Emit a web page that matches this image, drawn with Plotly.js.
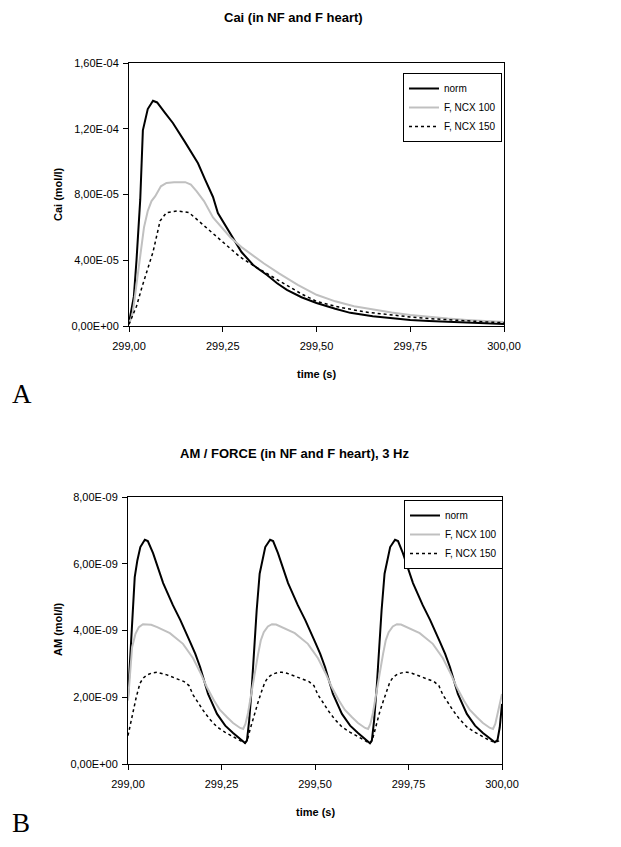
<!DOCTYPE html>
<html>
<head>
<meta charset="utf-8">
<script src="https://cdn.plot.ly/plotly-3.0.1.min.js"></script>
<style>
  html, body { margin: 0; padding: 0; background: #fff; }
  #chart { width: 621px; height: 847px; }
</style>
</head>
<body>
<div id="chart"></div>
<script>
// ---------- shared ----------
const seriesNames = ["norm", "F, NCX 100", "F, NCX 150"];

const xTickVals = [299.00, 299.25, 299.50, 299.75, 300.00];
const xTickText = ["299,00", "299,25", "299,50", "299,75", "300,00"];

const aTickVals = [0, 4e-5, 8e-5, 1.2e-4, 1.6e-4];
const aTickText = ["0,00E+00", "4,00E-05", "8,00E-05", "1,20E-04", "1,60E-04"];

const bTickVals = [0, 2e-9, 4e-9, 6e-9, 8e-9];
const bTickText = ["0,00E+00", "2,00E-09", "4,00E-09", "6,00E-09", "8,00E-09"];

// ---------- Chart A: Cai (mol/l) ----------
const normA_t = [299.000, 299.005, 299.013, 299.020, 299.030, 299.037, 299.050, 299.064, 299.075, 299.095, 299.117, 299.149, 299.170, 299.184, 299.203, 299.224, 299.237, 299.257, 299.277, 299.300, 299.331, 299.350, 299.368, 299.395, 299.421, 299.460, 299.500, 299.550, 299.590, 299.650, 299.700, 299.750, 299.800, 299.850, 299.900, 299.950, 300.000];
const normA_v = [2e-6, 8e-6, 1.8e-5, 4.0e-5, 7.7e-5, 1.19e-4, 1.32e-4, 1.37e-4, 1.36e-4, 1.30e-4, 1.235e-4, 1.12e-4, 1.04e-4, 9.9e-5, 8.9e-5, 7.85e-5, 6.87e-5, 6.1e-5, 5.41e-5, 4.5e-5, 3.71e-5, 3.4e-5, 3.1e-5, 2.6e-5, 2.2e-5, 1.75e-5, 1.4e-5, 1.05e-5, 8.0e-6, 6.0e-6, 4.8e-6, 3.7e-6, 3.0e-6, 2.5e-6, 2.0e-6, 1.5e-6, 1.2e-6];

const grayA_t = [299.000, 299.005, 299.010, 299.020, 299.030, 299.040, 299.050, 299.060, 299.070, 299.085, 299.100, 299.120, 299.150, 299.165, 299.180, 299.200, 299.224, 299.250, 299.270, 299.300, 299.330, 299.360, 299.400, 299.450, 299.500, 299.550, 299.600, 299.650, 299.700, 299.750, 299.800, 299.850, 299.900, 299.950, 300.000];
const grayA_v = [2e-6, 4e-6, 8e-6, 2.5e-5, 4.3e-5, 6.0e-5, 7.0e-5, 7.6e-5, 7.9e-5, 8.5e-5, 8.7e-5, 8.75e-5, 8.75e-5, 8.6e-5, 8.2e-5, 7.6e-5, 6.6e-5, 5.9e-5, 5.4e-5, 4.8e-5, 4.3e-5, 3.8e-5, 3.2e-5, 2.5e-5, 1.9e-5, 1.5e-5, 1.2e-5, 1.0e-5, 8.2e-6, 6.7e-6, 5.5e-6, 4.5e-6, 3.7e-6, 3.0e-6, 2.5e-6];

const dashA_t = [299.000, 299.010, 299.020, 299.035, 299.048, 299.064, 299.075, 299.083, 299.100, 299.130, 299.160, 299.190, 299.215, 299.243, 299.270, 299.296, 299.330, 299.368, 299.420, 299.460, 299.500, 299.560, 299.630, 299.700, 299.750, 299.800, 299.850, 299.900, 299.950, 300.000];
const dashA_v = [1e-6, 6e-6, 1.2e-5, 2.4e-5, 3.4e-5, 4.5e-5, 5.6e-5, 6.4e-5, 6.9e-5, 7.0e-5, 6.9e-5, 6.3e-5, 5.8e-5, 5.2e-5, 4.7e-5, 4.2e-5, 3.7e-5, 3.2e-5, 2.5e-5, 1.95e-5, 1.5e-5, 1.15e-5, 8.5e-6, 6.5e-6, 5.5e-6, 4.5e-6, 3.7e-6, 3.0e-6, 2.5e-6, 2.0e-6];

// ---------- Chart B: AM (mol/l) ----------
const normB_t = [299.000, 299.005, 299.011, 299.018, 299.025, 299.033, 299.045, 299.053, 299.067, 299.080, 299.094, 299.120, 299.140, 299.166, 299.180, 299.193, 299.214, 299.238, 299.260, 299.281, 299.300, 299.313, 299.318, 299.324, 299.331, 299.338, 299.344, 299.352, 299.359, 299.367, 299.380,
  299.388, 299.401, 299.414, 299.428, 299.454, 299.474, 299.500, 299.514, 299.527, 299.548, 299.572, 299.594, 299.615, 299.634, 299.647, 299.652, 299.658, 299.665, 299.672, 299.678, 299.686, 299.693, 299.701, 299.714,
  299.722, 299.735, 299.748, 299.762, 299.788, 299.808, 299.834, 299.848, 299.861, 299.882, 299.906, 299.928, 299.949, 299.968, 299.981, 299.988, 299.994, 300.000];
const normB_v = [2.0e-9, 3.0e-9, 4.5e-9, 5.6e-9, 6.1e-9, 6.5e-9, 6.72e-9, 6.68e-9, 6.32e-9, 5.9e-9, 5.42e-9, 4.76e-9, 4.31e-9, 3.66e-9, 3.3e-9, 2.9e-9, 2.1e-9, 1.5e-9, 1.15e-9, 0.93e-9, 0.75e-9, 0.63e-9, 0.7e-9, 1.3e-9, 2.3e-9, 3.6e-9, 4.6e-9, 5.7e-9, 6.1e-9, 6.5e-9, 6.72e-9,
  6.68e-9, 6.32e-9, 5.9e-9, 5.42e-9, 4.76e-9, 4.31e-9, 3.66e-9, 3.3e-9, 2.9e-9, 2.1e-9, 1.5e-9, 1.15e-9, 0.93e-9, 0.75e-9, 0.62e-9, 0.7e-9, 1.3e-9, 2.3e-9, 3.6e-9, 4.6e-9, 5.7e-9, 6.1e-9, 6.5e-9, 6.72e-9,
  6.68e-9, 6.32e-9, 5.9e-9, 5.42e-9, 4.76e-9, 4.31e-9, 3.66e-9, 3.3e-9, 2.9e-9, 2.1e-9, 1.5e-9, 1.15e-9, 0.93e-9, 0.75e-9, 0.65e-9, 0.72e-9, 1.1e-9, 1.8e-9];

const grayB_t = [299.000, 299.005, 299.011, 299.020, 299.029, 299.040, 299.062, 299.078, 299.112, 299.147, 299.174, 299.195, 299.211, 299.230, 299.246, 299.265, 299.281, 299.300, 299.308, 299.314, 299.321, 299.328, 299.334, 299.341, 299.348, 299.355, 299.363, 299.374, 299.385,
  299.396, 299.412, 299.446, 299.481, 299.508, 299.529, 299.545, 299.564, 299.580, 299.599, 299.615, 299.634, 299.642, 299.648, 299.655, 299.662, 299.668, 299.675, 299.682, 299.689, 299.697, 299.708, 299.719,
  299.730, 299.746, 299.780, 299.815, 299.842, 299.863, 299.879, 299.898, 299.914, 299.933, 299.949, 299.968, 299.976, 299.982, 299.989, 299.995, 300.000];
const grayB_v = [1.9e-9, 2.6e-9, 3.5e-9, 3.9e-9, 4.1e-9, 4.19e-9, 4.17e-9, 4.1e-9, 3.92e-9, 3.6e-9, 3.17e-9, 2.7e-9, 2.3e-9, 1.9e-9, 1.62e-9, 1.4e-9, 1.23e-9, 1.08e-9, 1.05e-9, 1.2e-9, 1.53e-9, 2.0e-9, 2.42e-9, 2.9e-9, 3.3e-9, 3.7e-9, 3.95e-9, 4.12e-9, 4.19e-9,
  4.18e-9, 4.1e-9, 3.92e-9, 3.6e-9, 3.17e-9, 2.7e-9, 2.3e-9, 1.9e-9, 1.62e-9, 1.4e-9, 1.23e-9, 1.08e-9, 1.05e-9, 1.2e-9, 1.53e-9, 2.0e-9, 2.42e-9, 2.9e-9, 3.3e-9, 3.7e-9, 3.95e-9, 4.12e-9, 4.19e-9,
  4.18e-9, 4.1e-9, 3.92e-9, 3.6e-9, 3.17e-9, 2.7e-9, 2.3e-9, 1.9e-9, 1.62e-9, 1.4e-9, 1.23e-9, 1.08e-9, 1.05e-9, 1.2e-9, 1.53e-9, 1.9e-9, 2.1e-9];

const dashB_t = [299.000, 299.008, 299.014, 299.022, 299.032, 299.041, 299.051, 299.065, 299.078, 299.091, 299.104, 299.131, 299.150, 299.163, 299.174, 299.187, 299.200, 299.218, 299.238, 299.260, 299.281, 299.300, 299.313, 299.320, 299.326, 299.333, 299.340, 299.349, 299.358, 299.366, 299.375, 299.388, 299.405,
  299.412, 299.425, 299.438, 299.465, 299.484, 299.497, 299.508, 299.521, 299.534, 299.552, 299.572, 299.594, 299.615, 299.634, 299.647, 299.654, 299.660, 299.667, 299.674, 299.683, 299.692, 299.700, 299.709, 299.722, 299.739,
  299.746, 299.759, 299.772, 299.799, 299.818, 299.831, 299.842, 299.855, 299.868, 299.886, 299.906, 299.928, 299.949, 299.968, 299.981, 299.990, 300.000];
const dashB_v = [0.85e-9, 1.3e-9, 1.6e-9, 2.0e-9, 2.42e-9, 2.58e-9, 2.67e-9, 2.73e-9, 2.75e-9, 2.72e-9, 2.67e-9, 2.55e-9, 2.47e-9, 2.35e-9, 2.07e-9, 1.85e-9, 1.62e-9, 1.35e-9, 1.11e-9, 0.95e-9, 0.81e-9, 0.7e-9, 0.63e-9, 0.75e-9, 1.02e-9, 1.3e-9, 1.6e-9, 1.9e-9, 2.2e-9, 2.45e-9, 2.6e-9, 2.7e-9, 2.75e-9,
  2.75e-9, 2.72e-9, 2.67e-9, 2.55e-9, 2.47e-9, 2.35e-9, 2.07e-9, 1.85e-9, 1.62e-9, 1.35e-9, 1.11e-9, 0.95e-9, 0.81e-9, 0.7e-9, 0.62e-9, 0.75e-9, 1.02e-9, 1.3e-9, 1.6e-9, 1.9e-9, 2.2e-9, 2.45e-9, 2.6e-9, 2.7e-9, 2.75e-9,
  2.75e-9, 2.72e-9, 2.67e-9, 2.55e-9, 2.47e-9, 2.35e-9, 2.07e-9, 1.85e-9, 1.62e-9, 1.35e-9, 1.11e-9, 0.95e-9, 0.81e-9, 0.7e-9, 0.65e-9, 0.68e-9, 0.72e-9];

// ---------- styles ----------
const FONT = "Liberation Sans, Arial, Helvetica, sans-serif";
const SERIF = "Liberation Serif, Times New Roman, serif";
const normLine = {color: "#000000", width: 2};
const grayLine = {color: "#c0c0c0", width: 2};
const dashLine = {color: "#000000", width: 1.5, dash: "3px,3px"};

const traces = [
  {x: normA_t, y: normA_v, name: seriesNames[0], mode: "lines", line: normLine, xaxis: "x", yaxis: "y", legend: "legend"},
  {x: grayA_t, y: grayA_v, name: seriesNames[1], mode: "lines", line: grayLine, xaxis: "x", yaxis: "y", legend: "legend"},
  {x: dashA_t, y: dashA_v, name: seriesNames[2], mode: "lines", line: dashLine, xaxis: "x", yaxis: "y", legend: "legend"},
  {x: normB_t, y: normB_v, name: seriesNames[0], mode: "lines", line: normLine, xaxis: "x2", yaxis: "y2", legend: "legend2"},
  {x: grayB_t, y: grayB_v, name: seriesNames[1], mode: "lines", line: grayLine, xaxis: "x2", yaxis: "y2", legend: "legend2"},
  {x: dashB_t, y: dashB_v, name: seriesNames[2], mode: "lines", line: dashLine, xaxis: "x2", yaxis: "y2", legend: "legend2"}
];

const W = 621, H = 847;
const px = v => v / W;
const py = v => 1 - v / H;

const axisCommon = {
  showline: true, linecolor: "#000", linewidth: 1, mirror: true,
  ticks: "outside", ticklen: 5, tickcolor: "#000", tickwidth: 1,
  showgrid: false, zeroline: false,
  tickfont: {family: FONT, size: 11, color: "#000"},
  tickmode: "array", fixedrange: true
};
const xAxisExtra = {ticklabelstandoff: 5};
const yAxisExtra = {ticklabelstandoff: 2};

const legendCommon = {
  xref: "paper", yref: "paper", xanchor: "left", yanchor: "top",
  bgcolor: "#fff", bordercolor: "#000", borderwidth: 1,
  font: {family: FONT, size: 10, color: "#000"},
  tracegroupgap: 0, itemwidth: 30
};

const layout = {
  width: W, height: H,
  margin: {l: 0, r: 0, t: 0, b: 0},
  paper_bgcolor: "#fff", plot_bgcolor: "#fff",
  showlegend: true,
  xaxis: Object.assign({}, axisCommon, xAxisExtra, {domain: [px(129), px(504)], range: [299, 300], tickvals: xTickVals, ticktext: xTickText, anchor: "y"}),
  yaxis: Object.assign({}, axisCommon, yAxisExtra, {domain: [py(326), py(63)], range: [0, 1.6e-4], tickvals: aTickVals, ticktext: aTickText, anchor: "x"}),
  xaxis2: Object.assign({}, axisCommon, xAxisExtra, {domain: [px(128), px(502)], range: [299, 300], tickvals: xTickVals, ticktext: xTickText, anchor: "y2"}),
  yaxis2: Object.assign({}, axisCommon, yAxisExtra, {domain: [py(764), py(497)], range: [0, 8e-9], tickvals: bTickVals, ticktext: bTickText, anchor: "x2"}),
  legend: Object.assign({}, legendCommon, {x: px(403), y: py(73)}),
  legend2: Object.assign({}, legendCommon, {x: px(404), y: py(500)}),
  annotations: [
    {text: "<b>Cai (in NF and F heart)</b>", x: px(293), y: py(18), xref: "paper", yref: "paper", xanchor: "center", yanchor: "middle", showarrow: false, font: {family: FONT, size: 13, color: "#000"}},
    {text: "<b>time (s)</b>", x: px(316), y: py(374), xref: "paper", yref: "paper", xanchor: "center", yanchor: "middle", showarrow: false, font: {family: FONT, size: 11, color: "#000"}},
    {text: "<b>Cai (mol/l)</b>", x: px(58), y: py(194), xref: "paper", yref: "paper", xanchor: "center", yanchor: "middle", textangle: -90, showarrow: false, font: {family: FONT, size: 11, color: "#000"}},
    {text: "A", x: px(10), y: py(394), xref: "paper", yref: "paper", xanchor: "left", yanchor: "middle", showarrow: false, font: {family: SERIF, size: 27, color: "#000"}},
    {text: "<b>AM / FORCE (in NF and F heart), 3 Hz</b>", x: px(294), y: py(453), xref: "paper", yref: "paper", xanchor: "center", yanchor: "middle", showarrow: false, font: {family: FONT, size: 13, color: "#000"}},
    {text: "<b>time (s)</b>", x: px(315), y: py(812), xref: "paper", yref: "paper", xanchor: "center", yanchor: "middle", showarrow: false, font: {family: FONT, size: 11, color: "#000"}},
    {text: "<b>AM (mol/l)</b>", x: px(58), y: py(630), xref: "paper", yref: "paper", xanchor: "center", yanchor: "middle", textangle: -90, showarrow: false, font: {family: FONT, size: 11, color: "#000"}},
    {text: "B", x: px(10), y: py(823), xref: "paper", yref: "paper", xanchor: "left", yanchor: "middle", showarrow: false, font: {family: SERIF, size: 27, color: "#000"}}
  ]
};

Plotly.newPlot("chart", traces, layout, {displayModeBar: false, staticPlot: true});
</script>
</body>
</html>
